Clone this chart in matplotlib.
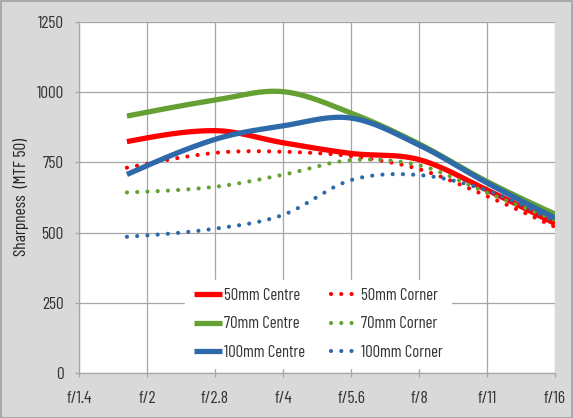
import numpy as np
import matplotlib
matplotlib.use("Agg")
import matplotlib.pyplot as plt
from matplotlib.patches import Rectangle
import logging
logging.getLogger("matplotlib.font_manager").setLevel(logging.ERROR)

plt.rcParams['font.family'] = ['Barlow Condensed', 'Roboto Condensed', 'DejaVu Sans']

# ---- data ----
tick_labels = ["f/1.4", "f/2", "f/2.8", "f/4", "f/5.6", "f/8", "f/11", "f/16"]
# positions of the measured apertures on the category axis (f/1.8, f/2.8 ... f/16)
positions = [0.705, 2, 3, 4, 5, 6, 7]
centre_50 = [824, 863, 820, 782, 760, 652, 532]
corner_50 = [731, 784, 788, 772, 726, 630, 520]
centre_70 = [915, 972, 1002, 926, 816, 682, 566]
corner_70 = [643, 663, 706, 758, 740, 642, 545]
centre_100 = [707, 832, 880, 908, 812, 677, 552]
corner_100 = [485, 514, 563, 687, 705, 650, 539]

red = "#ff0000"
green = "#64a032"
blue = "#2e69aa"


def smooth(x, y, n=40):
    x = np.asarray(x, float)
    y = np.asarray(y, float)
    m = np.zeros_like(y)
    m[1:-1] = (y[2:] - y[:-2]) / (x[2:] - x[:-2])
    m[0] = (y[1] - y[0]) / (x[1] - x[0])
    m[-1] = (y[-1] - y[-2]) / (x[-1] - x[-2])
    m[0] = 1.5 * m[0] - 0.5 * m[1]
    m[-1] = 1.5 * m[-1] - 0.5 * m[-2]
    X, Y = [], []
    for i in range(len(x) - 1):
        h = x[i + 1] - x[i]
        t = np.linspace(0, 1, n, endpoint=False)
        h00 = 2 * t ** 3 - 3 * t ** 2 + 1
        h10 = t ** 3 - 2 * t ** 2 + t
        h01 = -2 * t ** 3 + 3 * t ** 2
        h11 = t ** 3 - t ** 2
        X.append(x[i] + t * h)
        Y.append(h00 * y[i] + h10 * h * m[i] + h01 * y[i + 1] + h11 * h * m[i + 1])
    X.append([x[-1]])
    Y.append([y[-1]])
    return np.concatenate(X), np.concatenate(Y)


fig = plt.figure(figsize=(5.73, 4.18), dpi=100, facecolor="#d9d9d9")
fig.patches.append(Rectangle((0.001, 0.001), 0.997, 0.997, transform=fig.transFigure,
                             fill=False, edgecolor="#a0a0a0", linewidth=1.2))
ax = fig.add_axes([79 / 573, 45 / 418, 476 / 573, 351 / 418])
ax.set_facecolor("white")

series = [
    ("50mm Centre", centre_50, red, "-"),
    ("50mm Corner", corner_50, red, ":"),
    ("70mm Centre", centre_70, green, "-"),
    ("70mm Corner", corner_70, green, ":"),
    ("100mm Centre", centre_100, blue, "-"),
    ("100mm Corner", corner_100, blue, ":"),
]
handles = {}
for label, vals, col, ls in series:
    sx, sy = smooth(positions, vals)
    if ls == "-":
        ln, = ax.plot(sx, sy, color=col, lw=3.8, solid_capstyle="butt", label=label)
    else:
        ln, = ax.plot(sx, sy, color=col, lw=3.0, linestyle=(0, (0.01, 2.45)),
                      dash_capstyle="round", label=label)
    handles[label] = ln

ax.set_xlim(0, 7)
ax.set_ylim(0, 1250)
ax.set_xticks(range(8))
ax.set_xticklabels(tick_labels)
ax.set_yticks([0, 250, 500, 750, 1000, 1250])
ax.grid(True, color="#a6a6a6", lw=0.9)
ax.set_axisbelow(True)
for s in ["top", "right"]:
    ax.spines[s].set_visible(False)
for s in ["left", "bottom"]:
    ax.spines[s].set_color("#a6a6a6")
    ax.spines[s].set_linewidth(0.9)
ax.tick_params(axis="both", colors="#a6a6a6", width=0.9, length=3, labelcolor="#333333",
               labelsize=12.5)
ax.tick_params(axis="x", pad=10)
ax.tick_params(axis="y", pad=8)
ax.set_ylabel("Sharpness  (MTF 50)", fontsize=12.5, color="#222222")
ax.yaxis.set_label_coords(-50 / 476, 0.5)

order = ["50mm Centre", "70mm Centre", "100mm Centre", "50mm Corner", "70mm Corner", "100mm Corner"]
leg = ax.legend([handles[k] for k in order], order, ncol=2, loc="center",
                bbox_to_anchor=(0.503, 0.14), frameon=True, facecolor="white",
                edgecolor="white", framealpha=1, fancybox=False, fontsize=12,
                handlelength=1.7, handletextpad=0.1, columnspacing=1.6,
                labelspacing=0.8, borderpad=0.5)
for t in leg.get_texts():
    t.set_color("#333333")

fig.savefig("out.png", dpi=100, facecolor=fig.get_facecolor())
